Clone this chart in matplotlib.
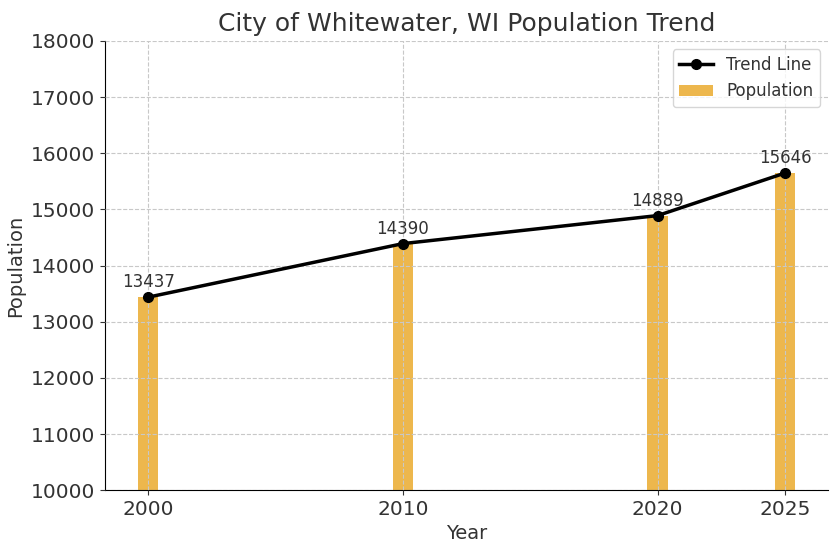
import matplotlib.pyplot as plt

years = [2000, 2010, 2020, 2025]
population = [13437, 14390, 14889, 15646]

plt.rcParams['font.family'] = 'DejaVu Sans'
plt.rcParams['text.color'] = '#333333'
plt.rcParams['axes.labelcolor'] = '#333333'
plt.rcParams['xtick.color'] = '#333333'
plt.rcParams['ytick.color'] = '#333333'

fig, ax = plt.subplots(figsize=(8.4, 5.52), dpi=100)
fig.subplots_adjust(left=0.125, right=0.986, top=0.926, bottom=0.112)

ax.bar(years, population, width=0.8, color='#EBB03A', alpha=0.9, label='Population', zorder=1)
ax.plot(years, population, color='black', marker='o', linewidth=2.5, markersize=7,
        label='Trend Line', zorder=3)
for x, y in zip(years, population):
    ax.annotate(str(y), (x, y), textcoords='offset points', xytext=(0, 7),
                ha='center', fontsize=12, color='#333333')

ax.set_ylim(10000, 18000)
ax.set_xlim(1998.3, 2026.7)
ax.set_xticks(years)
ax.set_yticks(range(10000, 18001, 1000))
ax.tick_params(labelsize=14.5)
ax.grid(True, linestyle='--', color='#c8c8c8', linewidth=0.8, zorder=2)
ax.set_axisbelow(False)
for s in ['top', 'right']:
    ax.spines[s].set_visible(False)

ax.set_title('City of Whitewater, WI Population Trend', fontsize=18, color='#333333', pad=7)
ax.set_xlabel('Year', fontsize=14)
ax.set_ylabel('Population', fontsize=14)
ax.legend(loc='upper right', fontsize=12)

plt.savefig('out.png')
